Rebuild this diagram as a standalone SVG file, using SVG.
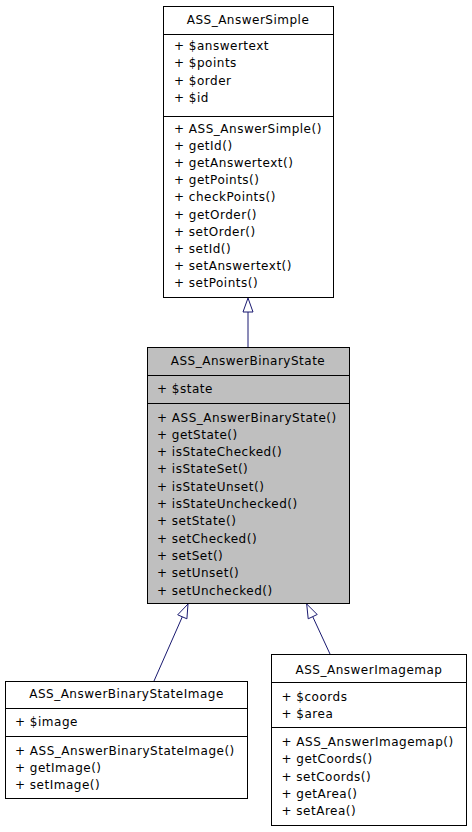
<svg xmlns="http://www.w3.org/2000/svg" width="472" height="832" viewBox="0 0 472 832">
<defs>
<style>
.box{fill:#ffffff;stroke:#000000;stroke-width:1}
.gray{fill:#bfbfbf}
.sep{stroke:#000000;stroke-width:1}
text{font-family:"DejaVu Sans","Liberation Sans",sans-serif;font-size:12px;letter-spacing:0.5px;fill:#000000}
.t{text-anchor:middle}
.edge{stroke:#191970;stroke-width:1;fill:none}
.head{stroke:#191970;stroke-width:1;fill:#ffffff}
</style>
</defs>
<rect width="472" height="832" fill="#ffffff"/>
<g id="connectors">
<line class="edge" x1="248" y1="312" x2="248" y2="347"/>
<polygon class="head" points="248,298 243,312 253,312"/>
<line class="edge" x1="182.3" y1="616.8" x2="154" y2="681"/>
<polygon class="head" points="188,604 177.7,614.8 186.9,618.8"/>
<line class="edge" x1="312.7" y1="616.6" x2="330" y2="654"/>
<polygon class="head" points="306.7,604 317.2,614.5 308.2,618.8"/>
</g>
<g id="ASS_AnswerSimple">
<rect class="box" x="163.5" y="6.5" width="170" height="291"/>
<line class="sep" x1="163.5" y1="34.5" x2="333.5" y2="34.5"/>
<line class="sep" x1="163.5" y1="116.5" x2="333.5" y2="116.5"/>
<text class="t" x="248" y="24">ASS_AnswerSimple</text>
<text x="174" y="49.5">+ $answertext</text>
<text x="174" y="67">+ $points</text>
<text x="174" y="84.5">+ $order</text>
<text x="174" y="102">+ $id</text>
<text x="174" y="132.5">+ ASS_AnswerSimple()</text>
<text x="174" y="149.7">+ getId()</text>
<text x="174" y="166.9">+ getAnswertext()</text>
<text x="174" y="184.1">+ getPoints()</text>
<text x="174" y="201.3">+ checkPoints()</text>
<text x="174" y="218.5">+ getOrder()</text>
<text x="174" y="235.7">+ setOrder()</text>
<text x="174" y="252.9">+ setId()</text>
<text x="174" y="270.1">+ setAnswertext()</text>
<text x="174" y="287.3">+ setPoints()</text>
</g>
<g id="ASS_AnswerBinaryState">
<rect class="box gray" x="147.5" y="347.5" width="202" height="256"/>
<line class="sep" x1="147.5" y1="375.5" x2="349.5" y2="375.5"/>
<line class="sep" x1="147.5" y1="403.5" x2="349.5" y2="403.5"/>
<text class="t" x="248" y="365">ASS_AnswerBinaryState</text>
<text x="157" y="392.5">+ $state</text>
<text x="157" y="421.5">+ ASS_AnswerBinaryState()</text>
<text x="157" y="438.8">+ getState()</text>
<text x="157" y="456.1">+ isStateChecked()</text>
<text x="157" y="473.4">+ isStateSet()</text>
<text x="157" y="490.7">+ isStateUnset()</text>
<text x="157" y="508">+ isStateUnchecked()</text>
<text x="157" y="525.3">+ setState()</text>
<text x="157" y="542.6">+ setChecked()</text>
<text x="157" y="559.9">+ setSet()</text>
<text x="157" y="577.2">+ setUnset()</text>
<text x="157" y="594.5">+ setUnchecked()</text>
</g>
<g id="ASS_AnswerBinaryStateImage">
<rect class="box" x="5.5" y="681.5" width="242" height="117"/>
<line class="sep" x1="5.5" y1="708.5" x2="247.5" y2="708.5"/>
<line class="sep" x1="5.5" y1="736.5" x2="247.5" y2="736.5"/>
<text class="t" x="126.5" y="698">ASS_AnswerBinaryStateImage</text>
<text x="15" y="726">+ $image</text>
<text x="15" y="754.5">+ ASS_AnswerBinaryStateImage()</text>
<text x="15" y="771.5">+ getImage()</text>
<text x="15" y="788.5">+ setImage()</text>
</g>
<g id="ASS_AnswerImagemap">
<rect class="box" x="271.5" y="654.5" width="195" height="171"/>
<line class="sep" x1="271.5" y1="682.5" x2="466.5" y2="682.5"/>
<line class="sep" x1="271.5" y1="727.5" x2="466.5" y2="727.5"/>
<text class="t" x="369" y="674">ASS_AnswerImagemap</text>
<text x="281.5" y="700.5">+ $coords</text>
<text x="281.5" y="718">+ $area</text>
<text x="281.5" y="746.2">+ ASS_AnswerImagemap()</text>
<text x="281.5" y="763.4">+ getCoords()</text>
<text x="281.5" y="780.7">+ setCoords()</text>
<text x="281.5" y="797.9">+ getArea()</text>
<text x="281.5" y="815.2">+ setArea()</text>
</g>
</svg>
